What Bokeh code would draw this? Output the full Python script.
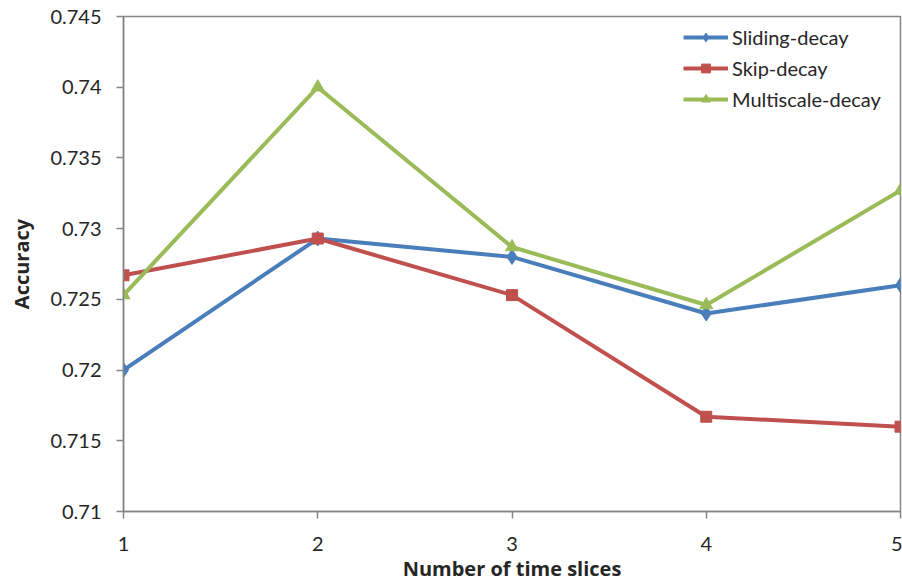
from bokeh.plotting import figure
from bokeh.models import FixedTicker, Legend, LegendItem
from bokeh.embed import file_html
from bokeh.resources import INLINE

# Accuracy per number of time slices for each decay scheme
slices = [1, 2, 3, 4, 5]
sliding_decay = [0.7200, 0.7293, 0.7280, 0.7240, 0.7260]
skip_decay = [0.7267, 0.7293, 0.7253, 0.7167, 0.7160]
multiscale_decay = [0.7253, 0.7400, 0.7287, 0.7246, 0.7327]

y_ticks = [0.71, 0.715, 0.72, 0.725, 0.73, 0.735, 0.74, 0.745]
y_tick_labels = ["0.71", "0.715", "0.72", "0.725", "0.73", "0.735", "0.74", "0.745"]

FONT = "Lato"
TITLE_FONT = "Open Sans"
AXIS_GRAY = "#868686"
TEXT = "#262626"

p = figure(
    width=902, height=587,
    x_range=(1, 5), y_range=(0.71, 0.745),
    output_backend="svg", toolbar_location=None,
    min_border_left=123, min_border_right=2,
    min_border_top=16, min_border_bottom=76,
)
p.background_fill_color = "white"
p.border_fill_color = "white"
p.outline_line_color = AXIS_GRAY
p.outline_line_width = 1.5
p.xgrid.visible = False
p.ygrid.visible = False

p.xaxis.ticker = FixedTicker(ticks=slices)
p.yaxis.ticker = FixedTicker(ticks=y_ticks)
p.yaxis.major_label_overrides = {t: s for t, s in zip(y_ticks, y_tick_labels)}

for ax in (p.xaxis[0], p.yaxis[0]):
    ax.axis_line_color = AXIS_GRAY
    ax.axis_line_width = 1.5
    ax.major_tick_line_color = AXIS_GRAY
    ax.major_tick_line_width = 1.5
    ax.major_tick_in = 0
    ax.major_tick_out = 7
    ax.minor_tick_line_color = None
    ax.major_label_text_font = FONT
    ax.major_label_text_font_size = "20px"
    ax.major_label_text_color = TEXT
    ax.axis_label_text_font = TITLE_FONT
    ax.axis_label_text_font_size = "20px"
    ax.axis_label_text_font_style = "bold"
    ax.axis_label_text_color = TEXT

p.xaxis.axis_label = "Number of time slices"
p.yaxis.axis_label = "Accuracy"
p.yaxis.major_label_standoff = 15
p.xaxis.major_label_standoff = 18
p.xaxis.axis_label_standoff = 1
p.yaxis.axis_label_standoff = 12

series = [
    ("Sliding-decay", sliding_decay, "#4A7EBB", "diamond", 15),
    ("Skip-decay", skip_decay, "#C0504D", "square", 11),
    ("Multiscale-decay", multiscale_decay, "#9BBB59", "triangle", 13),
]

items = []
for name, ys, color, marker, size in series:
    ln = p.line(slices, ys, line_color=color, line_width=4)
    mk = p.scatter(slices, ys, marker=marker, size=size,
                   fill_color=color, line_color=color)
    items.append(LegendItem(label=name, renderers=[ln, mk]))

legend = Legend(
    items=items,
    location=(560, 400),
    border_line_color=None,
    background_fill_alpha=0,
    label_text_font=FONT,
    label_text_font_size="20px",
    label_text_color=TEXT,
    glyph_width=45,
    glyph_height=22,
    spacing=7,
    label_standoff=4,
    margin=0,
    padding=0,
)
p.add_layout(legend)

open("out.html", "w").write(file_html(p, INLINE))
